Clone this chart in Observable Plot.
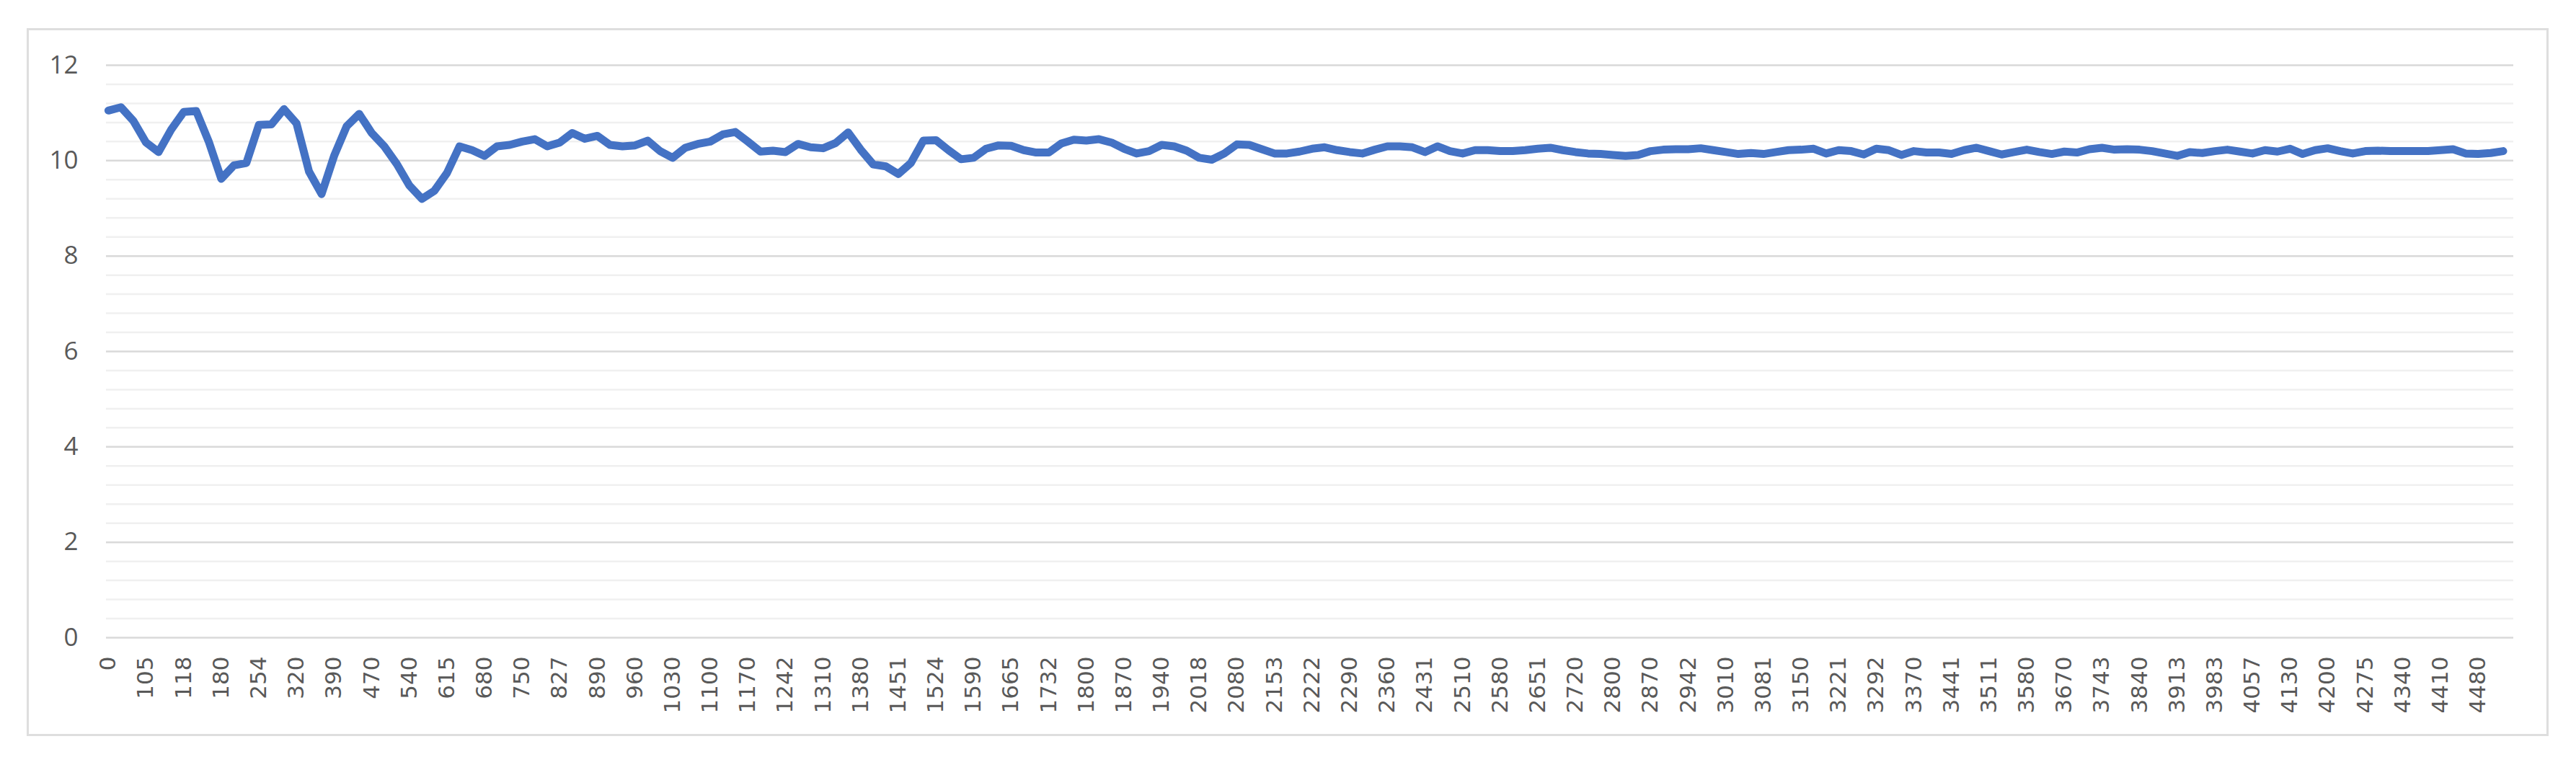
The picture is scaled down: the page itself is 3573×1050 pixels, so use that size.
<!DOCTYPE html>
<html>
<head>
<meta charset="utf-8">
<script src="https://cdn.jsdelivr.net/npm/d3@7"></script>
<script src="https://cdn.jsdelivr.net/npm/@observablehq/plot@0.6"></script>
<style>
  html, body { margin: 0; padding: 0; background: #ffffff; }
  #wrap { position: relative; width: 3573px; height: 1050px; overflow: hidden; }
  #wrap svg { position: absolute; left: 0; top: 0; }
  #frame { position: absolute; left: 37px; top: 39px; width: 3492px; height: 976px;
           border: 3px solid #dedede; pointer-events: none; }
</style>
</head>
<body>
<div id="wrap"><div id="frame"></div></div>
<script>
// Category tick labels (every 9th category is labelled)
const xTickLabels = [
  "0","105","118","180","254","320","390","470","540","615","680","750","827","890","960",
  "1030","1100","1170","1242","1310","1380","1451","1524","1590","1665","1732","1800","1870",
  "1940","2018","2080","2153","2222","2290","2360","2431","2510","2580","2651","2720","2800",
  "2870","2942","3010","3081","3150","3221","3292","3370","3441","3511","3580","3670","3743",
  "3840","3913","3983","4057","4130","4200","4275","4340","4410","4480"
];
const labelEvery = 9;
const categoryCount = 576;

// Series values, one every 3 categories
const sampleStep = 3;
const values = [
  11.05, 11.12, 10.83, 10.38, 10.18, 10.65, 11.02, 11.04, 10.40, 9.62,
  9.90, 9.95, 10.75, 10.76, 11.08, 10.78, 9.77, 9.30, 10.10, 10.72,
  10.98, 10.58, 10.30, 9.93, 9.48, 9.20, 9.37, 9.74, 10.30, 10.22,
  10.10, 10.30, 10.33, 10.40, 10.45, 10.30, 10.38, 10.58, 10.46, 10.52,
  10.33, 10.30, 10.32, 10.42, 10.20, 10.06, 10.27, 10.35, 10.40, 10.55,
  10.60, 10.40, 10.19, 10.21, 10.18, 10.35, 10.28, 10.26, 10.37, 10.59,
  10.23, 9.92, 9.88, 9.72, 9.95, 10.42, 10.43, 10.22, 10.03, 10.06,
  10.25, 10.32, 10.31, 10.22, 10.17, 10.17, 10.36, 10.44, 10.42, 10.45,
  10.38, 10.25, 10.15, 10.20, 10.33, 10.30, 10.21, 10.06, 10.02, 10.15,
  10.34, 10.33, 10.24, 10.15, 10.15, 10.19, 10.25, 10.28, 10.22, 10.18,
  10.15, 10.23, 10.30, 10.30, 10.28, 10.18, 10.30, 10.20, 10.15, 10.22,
  10.22, 10.20, 10.20, 10.22, 10.25, 10.27, 10.22, 10.18, 10.15, 10.14,
  10.12, 10.10, 10.12, 10.20, 10.23, 10.24, 10.24, 10.26, 10.22, 10.18,
  10.14, 10.16, 10.14, 10.18, 10.22, 10.23, 10.25, 10.15, 10.22, 10.20,
  10.13, 10.25, 10.22, 10.12, 10.20, 10.17, 10.17, 10.14, 10.22, 10.27,
  10.20, 10.13, 10.18, 10.23, 10.18, 10.14, 10.19, 10.17, 10.24, 10.27,
  10.23, 10.24, 10.23, 10.20, 10.15, 10.10, 10.18, 10.16, 10.20, 10.23,
  10.19, 10.15, 10.22, 10.19, 10.25, 10.14, 10.22, 10.26, 10.20, 10.15,
  10.20, 10.21, 10.20, 10.20, 10.20, 10.20, 10.22, 10.24, 10.15, 10.14,
  10.16, 10.20
];

// Y axis ticks
const yMajorTicks = [0, 2, 4, 6, 8, 10, 12];
const yMinorTicks = [0.4, 0.8, 1.2, 1.6, 2.4, 2.8, 3.2, 3.6, 4.4, 4.8, 5.2, 5.6,
                     6.4, 6.8, 7.2, 7.6, 8.4, 8.8, 9.2, 9.6, 10.4, 10.8, 11.2, 11.6];

const series = values.map((v, j) => ({i: j * sampleStep, v}));
const tickData = xTickLabels.map((label, j) => ({i: j * labelEvery, label}));

const chart = Plot.plot({
  width: 3573,
  height: 1050,
  marginLeft: 147,
  marginRight: 87,
  marginTop: 90,
  marginBottom: 166,
  style: {background: "transparent", color: "#595959"},
  x: {type: "linear", domain: [-0.5, categoryCount - 0.5], axis: null},
  y: {domain: [0, 12], axis: null},
  marks: [
    Plot.ruleY(yMinorTicks, {stroke: "#f0f0f0", strokeWidth: 2.5}),
    Plot.ruleY(yMajorTicks, {stroke: "#d9d9d9", strokeWidth: 2.5}),
    Plot.axisY(yMajorTicks, {
      tickSize: 0, tickPadding: 39, fontSize: 35, fontFamily: "Open Sans",
      fill: "#595959", label: null, tickFormat: d => String(d)
    }),
    Plot.text(tickData, {
      x: "i", text: "label", frameAnchor: "bottom", rotate: -90,
      textAnchor: "end", lineAnchor: "middle", dy: 26,
      fontSize: 31, fontFamily: "DejaVu Sans", fill: "#595959"
    }),
    Plot.line(series, {
      x: "i", y: "v", stroke: "#4472c4", strokeWidth: 11,
      strokeLinejoin: "round", strokeLinecap: "round"
    })
  ]
});
document.getElementById("wrap").insertBefore(chart, document.getElementById("frame"));
</script>
</body>
</html>
